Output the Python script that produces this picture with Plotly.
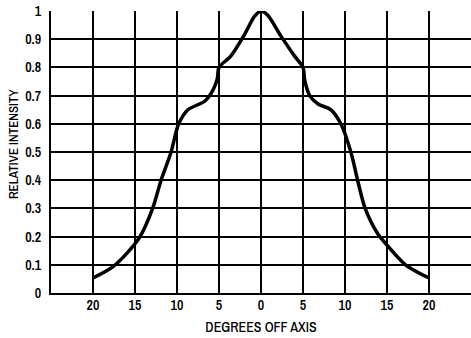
import plotly.graph_objects as go

# Curve: relative intensity vs degrees off axis (negative = left of axis)
degrees = [-20, -17.5, -14.5, -12.9, -11.9, -10.7, -9.8, -8.7, -6.7, -5.7, -5.2, -5.0,
           -3.6, -1.9, -0.8, 0, 0.8, 2.4, 4.0, 5.0, 5.2, 5.8, 6.8, 8.3, 9.5, 10.7,
           11.5, 12.4, 13.9, 15, 17.2, 20]
intensity = [0.053, 0.096, 0.195, 0.30, 0.40, 0.50, 0.60, 0.65, 0.68, 0.72, 0.76, 0.80,
             0.84, 0.92, 0.98, 1.0, 0.985, 0.91, 0.84, 0.80, 0.755, 0.70, 0.67, 0.65,
             0.60, 0.50, 0.40, 0.30, 0.21, 0.17, 0.10, 0.053]

x_tickvals = [-20, -15, -10, -5, 0, 5, 10, 15, 20]
x_ticktext = ["20", "15", "10", "5", "0", "5", "10", "15", "20"]
y_tickvals = [0, 0.1, 0.2, 0.3, 0.4, 0.5, 0.6, 0.7, 0.8, 0.9, 1.0]
y_ticktext = ["0", "0.1", "0.2", "0.3", "0.4", "0.5", "0.6", "0.7", "0.8", "0.9", "1"]
x_title = "DEGREES OFF AXIS"
y_title = "RELATIVE INTENSITY"

FONT = "Archivo Narrow, Roboto Condensed, PT Sans Narrow, Liberation Sans Narrow, sans-serif"

fig = go.Figure()
fig.add_trace(go.Scatter(
    x=degrees, y=intensity, mode="lines",
    line=dict(color="black", width=3.5, shape="spline", smoothing=0.8),
    hoverinfo="skip", showlegend=False,
))

fig.update_layout(
    width=471, height=338,
    margin=dict(l=51, r=0, t=11, b=45),
    paper_bgcolor="white", plot_bgcolor="white",
    font=dict(family=FONT, size=14, color="black"),
    xaxis=dict(
        range=[-25, 25], tickvals=x_tickvals, ticktext=x_ticktext,
        showgrid=True, gridcolor="black", gridwidth=2,
        showline=True, linecolor="black", linewidth=2,
        zeroline=False, ticks="", automargin=False, ticklabelstandoff=-2,
        tickfont=dict(family=FONT, size=14, color="black", weight=600),
        title=dict(text=x_title, font=dict(family=FONT, size=14, color="black", weight=500), standoff=9),
    ),
    yaxis=dict(
        range=[0, 1.0], tickvals=y_tickvals, ticktext=y_ticktext,
        showgrid=True, gridcolor="black", gridwidth=2,
        showline=True, linecolor="black", linewidth=2,
        zeroline=False, ticks="", automargin=False, ticklabelstandoff=5,
        tickfont=dict(family=FONT, size=14, color="black", weight=600),
    ),
    annotations=[dict(
        text=y_title, textangle=-90, showarrow=False,
        xref="paper", yref="paper", x=0, y=0.528, xshift=-38,
        xanchor="center", yanchor="middle",
        font=dict(family=FONT, size=13, color="black", weight=500),
    )],
)

# Remove the default 8px body margin so the figure fills the window exactly.
fig.write_html("out.html", config={"displayModeBar": False},
               post_script="document.body.style.margin='0';document.body.style.overflow='hidden';")
